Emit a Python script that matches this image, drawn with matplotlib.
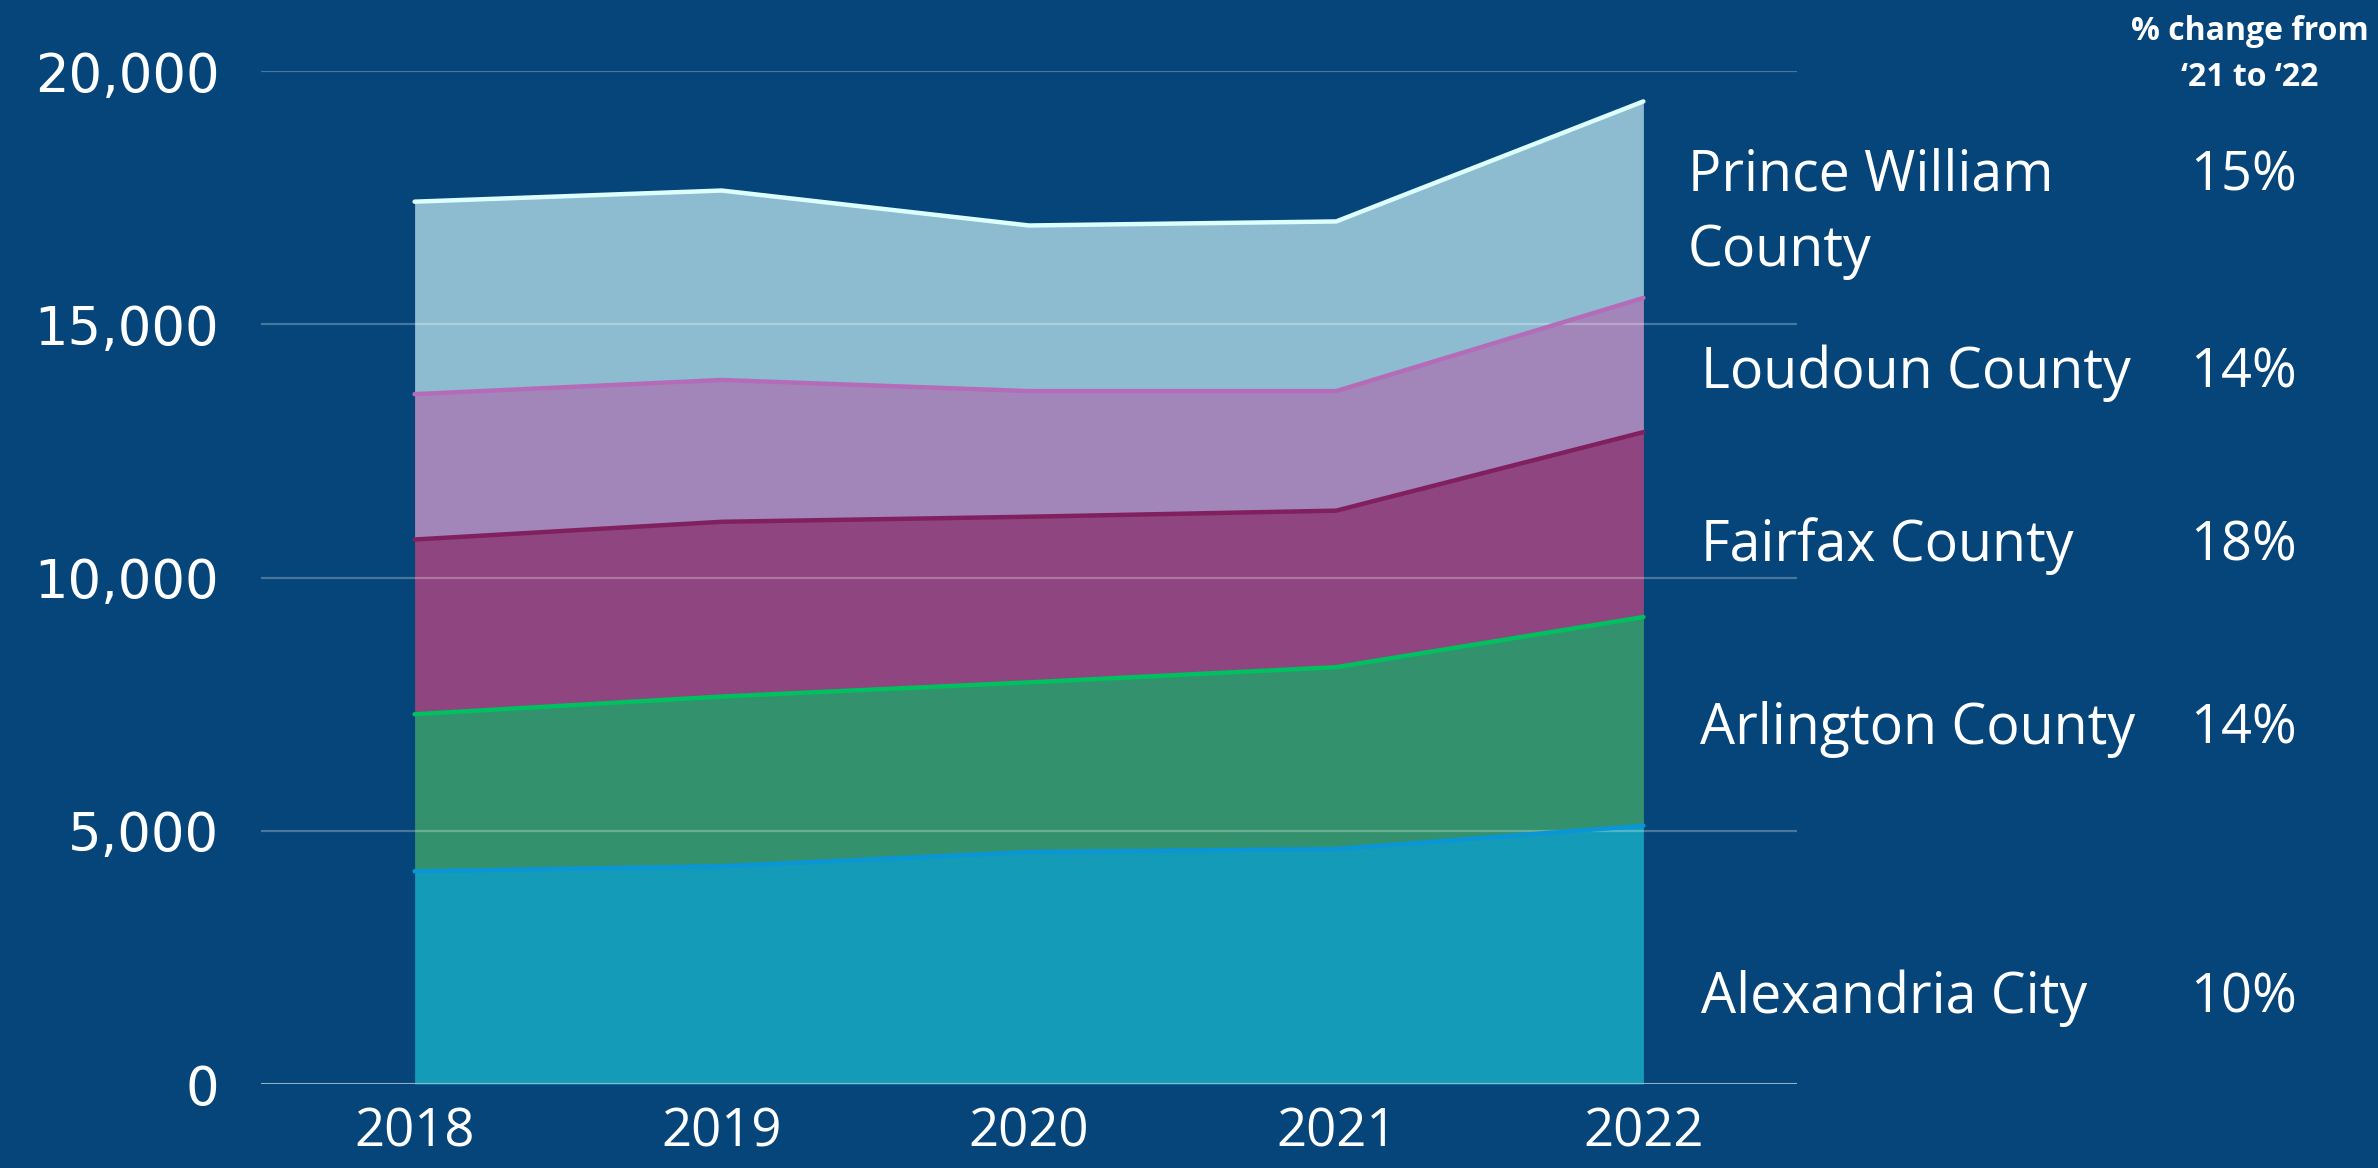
import numpy as np
import matplotlib.pyplot as plt

plt.rcParams['font.family'] = ['Open Sans', 'DejaVu Sans']

years = [2018, 2019, 2020, 2021, 2022]

# individual series, stacked bottom -> top
alexandria = [4200, 4300, 4580, 4640, 5100]
arlington = [3100, 3350, 3350, 3590, 4120]
fairfax = [3450, 3450, 3270, 3090, 3650]
loudoun = [2870, 2800, 2480, 2360, 2650]
prince_william = [3800, 3740, 3270, 3350, 3880]

names = ["Alexandria City", "Arlington County", "Fairfax County",
         "Loudoun County", "Prince William\nCounty"]
pct_change = ["10%", "14%", "18%", "14%", "15%"]

fill_colors = ["#139BB7", "#34916E", "#8F4580", "#A386B9", "#8DBCD1"]
line_colors = ["#0A96D4", "#00C060", "#80205F", "#B46CB8", "#DDFFFF"]
bg = "#05457A"

W, H = 2378, 1168
fig = plt.figure(figsize=(W / 100, H / 100), dpi=100, facecolor=bg)
ax = fig.add_axes([261 / W, 1 - 1084 / H, (1797 - 261) / W, (1084 - 71) / H])
ax.set_facecolor(bg)

series = [alexandria, arlington, fairfax, loudoun, prince_william]
base = np.zeros(len(years))
for vals, fc, lc in zip(series, fill_colors, line_colors):
    top = base + np.array(vals)
    ax.fill_between(years, base, top, color=fc, lw=0, zorder=1)
    ax.plot(years, top, color=lc, lw=3.2, solid_capstyle='round',
            solid_joinstyle='round', zorder=3)
    base = top

ax.set_xlim(2017.5, 2022.5)
ax.set_ylim(0, 20000)
ax.set_yticks([0, 5000, 10000, 15000, 20000])
ax.set_yticklabels(["0", "5,000", "10,000", "15,000", "20,000"],
                   family='DejaVu Sans')
ax.set_xticks(years)
ax.set_xticklabels([str(y) for y in years])
ax.tick_params(axis='both', length=0, colors='white', labelsize=38)
ax.tick_params(axis='y', pad=30)
ax.tick_params(axis='x', pad=16)
ax.yaxis.grid(True, color='white', alpha=0.27, lw=1.6, zorder=2)
ax.set_axisbelow(False)
for s in ax.spines.values():
    s.set_visible(False)
ax.axhline(0, color='#9DB6CC', lw=2, zorder=4)

# right-hand labels (centre y in pixels)
label_y = [998, 729, 546, 373, 176]
label_x = [1701, 1700, 1701, 1701, 1688]
for name, pct, ly, lx in zip(names, pct_change, label_y, label_x):
    lines = name.split("\n")
    for k, line in enumerate(lines):
        fig.text(lx / W, 1 - (ly + 76 * k) / H, line, color='white', fontsize=40,
                 ha='left', va='center')
    fig.text(2297 / W, 1 - ly / H, pct, color='white', fontsize=39,
             ha='right', va='center')

fig.text(2250 / W, 1 - 32 / H, "% change from", color='white',
         fontsize=23, fontweight='bold', ha='center', va='center')
fig.text(2250 / W, 1 - 78 / H, "\u201821 to \u201822", color='white',
         fontsize=23, fontweight='bold', ha='center', va='center')

fig.savefig("out.png", dpi=100, facecolor=bg)
